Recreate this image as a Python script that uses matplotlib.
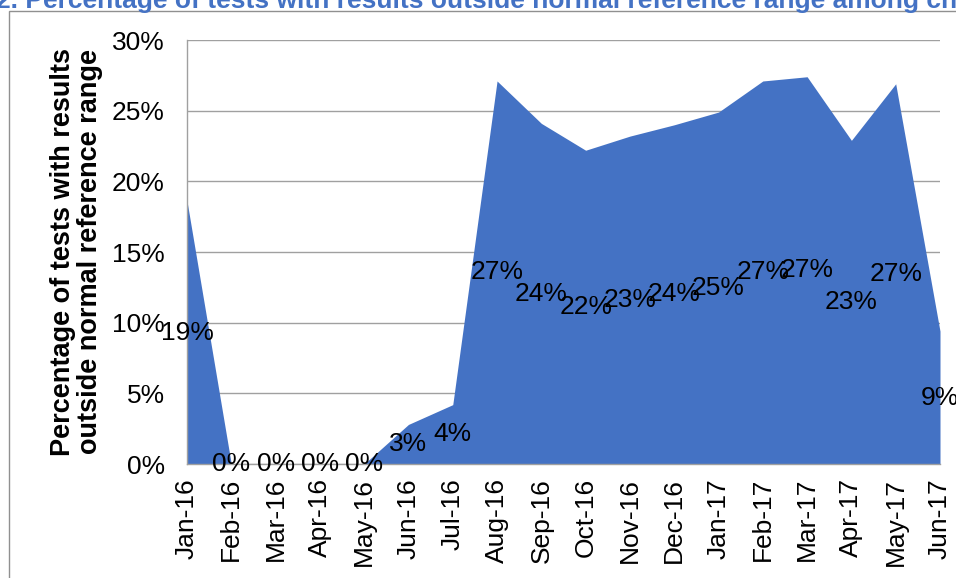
import matplotlib
matplotlib.use("Agg")
import matplotlib.pyplot as plt
from matplotlib.patches import Rectangle

plt.rcParams['font.family'] = ['Liberation Sans', 'DejaVu Sans']

months = ["Jan-16", "Feb-16", "Mar-16", "Apr-16", "May-16", "Jun-16", "Jul-16",
          "Aug-16", "Sep-16", "Oct-16", "Nov-16", "Dec-16", "Jan-17", "Feb-17",
          "Mar-17", "Apr-17", "May-17", "Jun-17"]
values = [18.6, 0.0, 0.0, 0.0, 0.0, 2.8, 4.2, 27.1, 24.1, 22.2, 23.2, 24.0,
          24.9, 27.1, 27.4, 22.9, 26.9, 9.4]
yticks = [0, 5, 10, 15, 20, 25, 30]

W, H = 956, 578
fig = plt.figure(figsize=(W / 100, H / 100), dpi=100)
ax = fig.add_axes([187 / W, 1 - 464 / H, (940 - 187) / W, (464 - 40) / H])

x = list(range(len(months)))
ax.fill_between(x, values, 0, color='#4472C4', linewidth=0, zorder=2)

for i, v in zip(x, values):
    ax.text(i, v / 2, f"{round(v):.0f}%", ha='center', va='center',
            fontsize=19, color='black', zorder=3, clip_on=False)

ax.set_xlim(0, len(months) - 1)
ax.set_ylim(0, 30)
ax.set_yticks(yticks)
ax.set_yticklabels([f"{t}%" for t in yticks], fontsize=19)
ax.set_xticks(x)
ax.set_xticklabels(months, rotation=90, fontsize=19)
ax.tick_params(axis='x', length=0, pad=10)
ax.tick_params(axis='y', length=0, pad=16)
ax.grid(axis='y', color='#A0A0A0', linewidth=1, zorder=1)
ax.set_axisbelow(True)
for s in ['top', 'right']:
    ax.spines[s].set_visible(False)
for s in ['left', 'bottom']:
    ax.spines[s].set_color('#A0A0A0')
    ax.spines[s].set_linewidth(1)

fig.text(77 / W, 1 - 252 / H,
         "Percentage of tests with results\noutside normal reference range",
         rotation=90, ha='center', va='center', fontsize=19.5,
         fontweight='bold', linespacing=1.05)

fig.text(-4 / W, 1 - 8 / H,
         "2. Percentage of tests with results outside normal reference range among children",
         ha='left', va='baseline', fontsize=19, fontweight='bold', color='#4472C4')

fig.patches.append(Rectangle((9 / W, -0.1), 1.2, 1 - 11 / H + 0.1,
                             transform=fig.transFigure, fill=False,
                             edgecolor='#909090', linewidth=1))

fig.savefig("out.png", dpi=100)
